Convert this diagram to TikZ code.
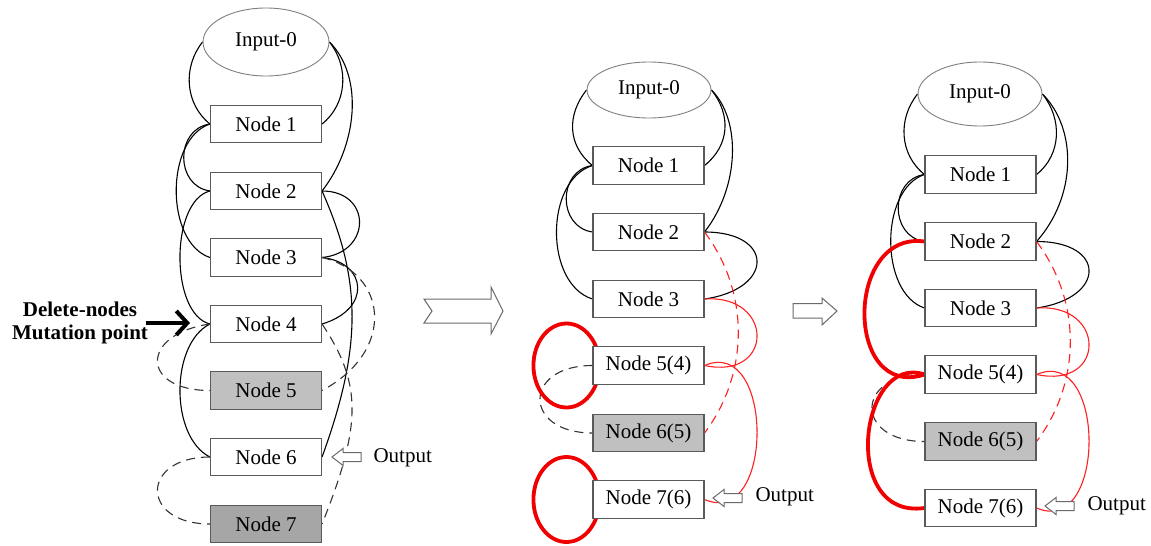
\documentclass[tikz,border=0pt]{standalone}
\usepackage{fontspec}
\setmainfont{Liberation Serif}
\usetikzlibrary{arrows.meta,backgrounds,shapes.geometric}
\definecolor{boxline}{HTML}{5A5A5A}
\definecolor{ellline}{HTML}{7F7F7F}
\definecolor{lightfill}{HTML}{C0C0C0}
\definecolor{darkfill}{HTML}{A6A6A6}
\definecolor{linkred}{HTML}{FF2020}
\definecolor{thickred}{HTML}{F00000}
\definecolor{arrline}{HTML}{6A6A6A}
\tikzset{
  lbl/.style={font=\fontsize{21}{24}\selectfont},
  inp/.style={ellipse, draw=ellline, line width=0.9, fill=white, inner sep=0, lbl},
  nbox/.style={rectangle, draw=boxline, line width=1.1, fill=white, minimum width=111, minimum height=37.5, inner sep=0, lbl},
  blk/.style={black, line width=1.1},
  blkdash/.style={black!80, line width=1.1, dash pattern=on 9 off 6},
  redl/.style={linkred, line width=1.1},
  reddash/.style={linkred, line width=1.1, dash pattern=on 9 off 6},
  redthick/.style={thickred, line width=3.8},
  hollow/.style={draw=arrline, line width=1, fill=white, line join=miter},
  outarr/.pic={\draw[hollow] (0,0) -- (11,-8.5) -- (11,-4.5) -- (29,-4.5) -- (29,4.5) -- (11,4.5) -- (11,8.5) -- cycle;}
}
\begin{document}
\begin{tikzpicture}[x=1pt, y=-1pt]
\useasboundingbox (0,0) rectangle (1151,546);
% ---------------- Panel 1 ----------------
\node[inp, minimum width=126, minimum height=68] (a0) at (266,42) {Input-0};
\node[nbox] (a1) at (266,124) {Node 1};
\node[nbox] (a2) at (266,191) {Node 2};
\node[nbox] (a3) at (266,257.5) {Node 3};
\node[nbox] (a4) at (266,324) {Node 4};
\node[nbox, fill=lightfill] (a5) at (266,390.5) {Node 5};
\node[nbox] (a6) at (266,457) {Node 6};
\node[nbox, fill=darkfill] (a7) at (266,524) {Node 7};
\node[lbl, font=\fontsize{21}{23}\selectfont\bfseries, align=center] (mut) at (80,323) {Delete-nodes\\Mutation point};
\coordinate (mutend) at (190,323);
\draw[line width=4, -{Straight Barb[length=11, width=24, line width=4]}] (mut.east) ++(-6,0) -- (mutend);
\pic at (332,457) {outarr};
\node[lbl, anchor=west] (out1) at (370,458) {Output};
% ---------------- Panel 2 ----------------
\node[inp, minimum width=124, minimum height=56] (b0) at (649,90) {Input-0};
\node[nbox] (b1) at (648.5,165.5) {Node 1};
\node[nbox] (b2) at (648.5,232) {Node 2};
\node[nbox] (b3) at (648.5,299) {Node 3};
\node[nbox] (b5) at (648.5,365.5) {Node 5(4)};
\node[nbox, fill=lightfill] (b6) at (648.5,433) {Node 6(5)};
\node[nbox] (b7) at (648.5,499.5) {Node 7(6)};
\pic at (713,498) {outarr};
\node[lbl, anchor=west] (out2) at (752,497) {Output};
% ---------------- Panel 3 ----------------
\node[inp, minimum width=124, minimum height=64] (c0) at (980,94) {Input-0};
\node[nbox] (c1) at (980.5,174.5) {Node 1};
\node[nbox] (c2) at (980.5,241.5) {Node 2};
\node[nbox] (c3) at (980.5,308) {Node 3};
\node[nbox] (c5) at (980.5,374.5) {Node 5(4)};
\node[nbox, fill=lightfill] (c6) at (980.5,441.5) {Node 6(5)};
\node[nbox] (c7) at (980.5,508) {Node 7(6)};
\pic at (1045,506) {outarr};
\node[lbl, anchor=west] (out3) at (1084,506) {Output};
% ---------------- transition arrows ----------------
\draw[hollow] (424,299) -- (491,299) -- (491,287) -- (503,311) -- (491,334) -- (491,323) -- (424,323) -- (432,311) -- cycle;
\draw[hollow] (793,303.5) -- (822,303.5) -- (822,298) -- (837,311) -- (822,325) -- (822,318) -- (793,318) -- cycle;
% ---------------- connectors ----------------
\begin{pgfonlayer}{background}
% panel 1
\draw[blk] (a0.west) .. controls +(-20,25) and +(-25,-20) .. (a1.west);
\draw[blk] (a0.east) .. controls +(20,25) and +(25,-20) .. (a1.east);
\draw[blk] (a0.east) .. controls +(35,35) and +(35,-45) .. (a2.east);
\draw[blk] (a1.west) .. controls +(-35,5) and +(-35,-5) .. (a2.west);
\draw[blk] (a1.west) .. controls +(-45,15) and +(-45,-15) .. (a3.west);
\draw[blk] (a2.west) .. controls +(-40,10) and +(-40,-10) .. (a4.west);
\draw[blk] (a2.east) .. controls +(50,0) and +(50,-5) .. (a3.east);
\draw[blk] (a2.east) .. controls +(40,90) and +(40,-110) .. (a6.east);
\draw[blk] (a3.east) .. controls +(45,5) and +(50,-15) .. (a4.east);
\draw[blk] (a4.west) .. controls +(-40,20) and +(-40,-20) .. (a6.west);
\draw[blkdash] (a3.east) .. controls +(65,15) and +(75,-40) .. (a5.east);
\draw[blkdash] (a4.east) .. controls +(40,60) and +(40,-100) .. (a7.east);
\draw[blkdash] (a4.west) .. controls +(-70,10) and +(-70,0) .. (a5.west);
\draw[blkdash] (a6.west) .. controls +(-70,0) and +(-70,0) .. (a7.west);
% panel 2
\draw[blk] (b0.west) .. controls +(-20,25) and +(-25,-20) .. (b1.west);
\draw[blk] (b0.east) .. controls +(20,25) and +(25,-20) .. (b1.east);
\draw[blk] (b0.east) .. controls +(30,30) and +(35,-45) .. (b2.east);
\draw[blk] (b1.west) .. controls +(-35,5) and +(-35,-5) .. (b2.west);
\draw[blk] (b1.west) .. controls +(-48,15) and +(-48,-15) .. (b3.west);
\draw[blk] (b2.east) .. controls +(70,0) and +(70,-10) .. (b3.east);
\draw[redl] (b3.east) .. controls +(70,-5) and +(70,15) .. (b5.east);
\draw[redl] (b5.east) .. controls +(70,-30) and +(70,30) .. (b7.east);
\draw[reddash] (b2.east) .. controls +(45,60) and +(45,-60) .. (b6.east);
\draw[blkdash] (b5.west) .. controls +(-70,0) and +(-70,0) .. (b6.west);
\draw[redthick] (b5.west) ++(-26,0) ellipse [x radius=33, y radius=42];
\draw[redthick] (b7.west) ++(-26,0) ellipse [x radius=33, y radius=42.5];
% panel 3
\draw[blk] (c0.west) .. controls +(-20,25) and +(-25,-20) .. (c1.west);
\draw[blk] (c0.east) .. controls +(20,25) and +(25,-20) .. (c1.east);
\draw[blk] (c0.east) .. controls +(35,35) and +(40,-45) .. (c2.east);
\draw[blk] (c1.west) .. controls +(-35,5) and +(-35,-5) .. (c2.west);
\draw[blk] (c1.west) .. controls +(-45,15) and +(-45,-15) .. (c3.west);
\draw[blk] (c2.east) .. controls +(70,0) and +(70,-10) .. (c3.east);
\draw[redl] (c3.east) .. controls +(70,-5) and +(70,15) .. (c5.east);
\draw[redl] (c5.east) .. controls +(70,-30) and +(70,30) .. (c7.east);
\draw[reddash] (c2.east) .. controls +(45,60) and +(45,-60) .. (c6.east);
\draw[blkdash] (c5.west) .. controls +(-70,0) and +(-70,0) .. (c6.west);
\draw[redthick] (c2.west) .. controls +(-80,-11) and +(-80,26) .. (c5.west);
\draw[redthick] (c5.west) .. controls +(-65,-22) and +(-85,12) .. (c7.west);
\end{pgfonlayer}
\end{tikzpicture}
\end{document}
